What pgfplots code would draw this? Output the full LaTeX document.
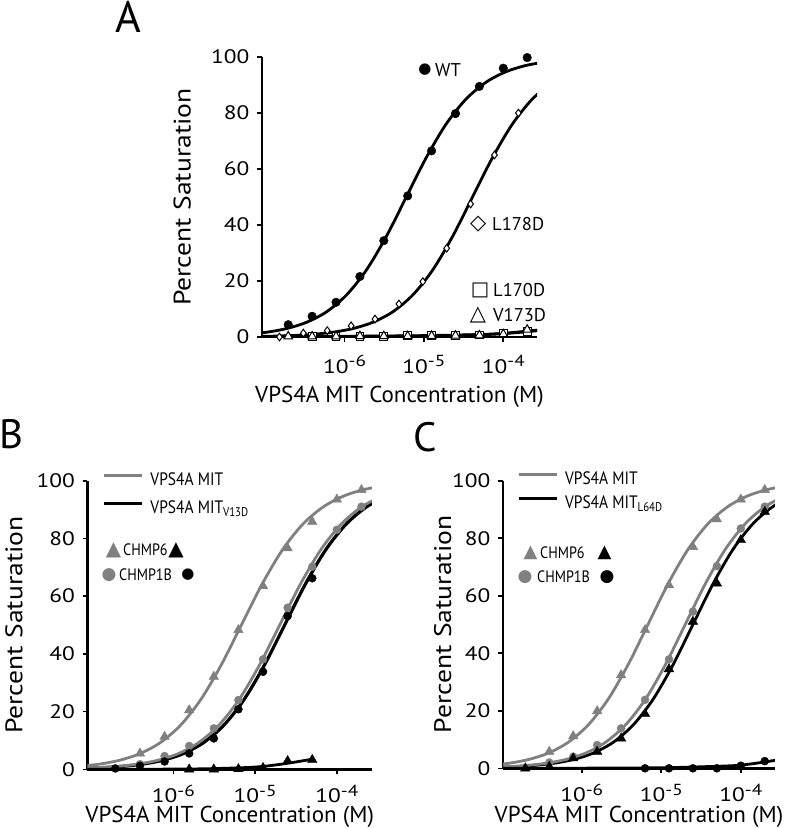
\documentclass[border=0pt]{standalone}
\usepackage{pgfplots}
\pgfplotsset{compat=1.18}
\usepackage{fontspec}
\setmainfont{PT Sans}
\newfontfamily\sym{DejaVu Sans}
\newfontfamily\cond[FakeStretch=0.86]{PT Sans}
\newfontfamily\tickf[FakeStretch=1.2]{PT Sans}
\newfontfamily\widef[FakeStretch=1.15]{PT Sans}
\definecolor{mg}{RGB}{128,128,128}
\newcommand{\fs}[1]{\fontsize{#1}{#1}\selectfont}
\newcommand{\tenp}[1]{10\raisebox{6.5pt}{\fs{16}-#1}}
\pgfplotsset{mylegline/.style={legend image code/.code={\draw[##1] (0pt,4pt) -- (38pt,4pt);}}}
\begin{document}
\begin{tikzpicture}
\path[use as bounding box] (0pt,0pt) rectangle (792pt,-828pt);

% ---------------- Panel A ----------------
\begin{axis}[at={(262pt,-337pt)}, anchor=south west, width=275pt, height=280pt,
  xmode=log, scale only axis, axis lines*=left,
  axis line style={line width=2.8pt},
  xmin=9.12e-8, xmax=2.66e-4, ymin=0, ymax=100,
  ytick={0,20,40,60,80,100}, yticklabels={0,20,40,60,80,100},
  xtick={1e-6,1e-5,1e-4},
  xticklabels={\tenp{6},\tenp{5},\tenp{4}},
  xminorticks=false, yminorticks=false,
  tick align=outside, major tick length=5pt,
  tick style={black, line width=1.6pt},
  xticklabel style={font=\tickf\fs{19.5}, yshift=-10pt},
  yticklabel style={font=\tickf\fs{19.5}, xshift=-4pt},
  xlabel={VPS4A MIT Concentration (M)},
  ylabel={Percent Saturation},
  xlabel style={font=\fs{23}, anchor=center, at={(axis description cs:0.5,-0.214)}},
  ylabel style={font=\widef\fs{24}, anchor=center, at={(axis description cs:-0.29,0.5)}},
  clip marker paths=false,
]
\addplot[smooth, no marks, line width=2.8pt, black] coordinates {(6e-8,0.99)(1.067e-7,1.747)(1.897e-7,3.066)(3.374e-7,5.324)(6e-7,9.091)(1.067e-6,15.10)(1.897e-6,24.03)(3.374e-6,36.00)(6e-6,50)(1.067e-5,64.00)(1.897e-5,75.97)(3.374e-5,84.90)(6e-5,90.91)(1.067e-4,94.68)(1.897e-4,96.93)(3.374e-4,98.25)};
\addplot[smooth, no marks, line width=2.8pt, black] coordinates {(7.29e-8,0.178)(1.297e-7,0.315)(2.306e-7,0.559)(4.1e-7,0.990)(7.29e-7,1.747)(1.297e-6,3.066)(2.306e-6,5.324)(4.1e-6,9.091)(7.29e-6,15.10)(1.297e-5,24.03)(2.306e-5,36.00)(4.1e-5,50)(7.29e-5,64.00)(1.297e-4,75.97)(2.306e-4,84.90)(4.1e-4,90.91)};
\addplot[smooth, no marks, line width=2.8pt, black] coordinates {(8e-8,0.1)(1e-6,0.2)(1e-5,0.4)(5e-5,0.8)(1e-4,1.2)(2e-4,1.9)(3e-4,2.4)};
\addplot[smooth, no marks, line width=2.8pt, black] coordinates {(8e-8,0.1)(1e-6,0.25)(1e-5,0.5)(5e-5,0.9)(1e-4,1.3)(2e-4,2.1)(3e-4,2.6)};
\addplot[only marks, mark=*, mark size=4.3pt, black] coordinates {(1.953e-7,4.4)(3.906e-7,7.4)(7.8125e-7,12.4)(1.5625e-6,21.6)(3.125e-6,34.4)(6.25e-6,50.4)(1.25e-5,66.5)(2.5e-5,79.8)(5e-5,89.5)(1e-4,96)(2e-4,99.8)};
\addplot[only marks, mark=diamond*, mark size=3.8pt, mark options={fill=white, draw=black, line width=1pt}] coordinates {(1.514e-7,0)(3.027e-7,1.4)(6.055e-7,2.3)(1.211e-6,4.0)(2.422e-6,6.4)(4.844e-6,11.8)(9.688e-6,19.8)(1.9375e-5,31.7)(3.875e-5,47.5)(7.75e-5,65)(1.55e-4,80.0)};
\addplot[only marks, mark=square*, mark size=3.9pt, mark options={fill=white, draw=black, line width=1pt}] coordinates {(3.906e-7,0.3)(7.8125e-7,0.3)(1.5625e-6,0.3)(3.125e-6,0.3)(6.25e-6,0.4)(1.25e-5,0.4)(2.5e-5,0.5)(5e-5,0.7)(1e-4,1.2)(2e-4,2.0)};
\addplot[only marks, mark=triangle*, mark size=5pt, mark options={fill=white, draw=black, line width=1pt}] coordinates {(1.953e-7,0.2)(3.906e-7,0.2)(7.8125e-7,0.2)(1.5625e-6,0.3)(3.125e-6,0.3)(6.25e-6,0.3)(1.25e-5,0.4)(2.5e-5,0.5)(5e-5,0.6)(1e-4,1.0)(2e-4,2.6)};
\end{axis}

% ---------------- Panel B ----------------
\begin{axis}[at={(87.5pt,-769.3pt)}, anchor=south west, width=284.5pt, height=288.6pt,
  xmode=log, scale only axis, axis lines*=left,
  axis line style={line width=2.8pt},
  xmin=8.91e-8, xmax=2.69e-4, ymin=0, ymax=100,
  ytick={0,20,40,60,80,100}, yticklabels={0,20,40,60,80,100},
  xtick={1e-6,1e-5,1e-4},
  xticklabels={\tenp{6},\tenp{5},\tenp{4}},
  xminorticks=false, yminorticks=false,
  tick align=outside, major tick length=5pt,
  tick style={black, line width=1.6pt},
  xticklabel style={font=\tickf\fs{19.5}, yshift=-7pt},
  yticklabel style={font=\tickf\fs{19.5}, xshift=-4pt},
  xlabel={VPS4A MIT Concentration (M)},
  ylabel={Percent Saturation},
  xlabel style={font=\fs{23}, anchor=center, at={(axis description cs:0.5,-0.166)}},
  ylabel style={font=\widef\fs{24}, anchor=center, at={(axis description cs:-0.258,0.5)}},
  clip marker paths=false,
  legend style={draw=none, fill=none, inner sep=0pt, font=\cond\fs{18},
    at={(axis description cs:0.052,0.955)}, anchor=west,
    row sep=10pt, column sep=5pt},
  legend cell align=left,
]
\addlegendimage{line width=3pt, mg, mylegline}
\addlegendentry{VPS4A MIT}
\addlegendimage{line width=3pt, black, mylegline}
\addlegendentry{VPS4A MIT\textsubscript{V13D}}
\addplot[smooth, no marks, black, line width=3.2pt, forget plot] coordinates {(7.273e-8,0.315)(1.293e-7,0.559)(2.3e-7,0.99)(4.090e-7,1.747)(7.273e-7,3.066)(1.293e-6,5.324)(2.3e-6,9.091)(4.090e-6,15.10)(7.273e-6,24.03)(1.293e-5,36.00)(2.3e-5,50)(4.090e-5,64.00)(7.273e-5,75.97)(1.293e-4,84.90)(2.3e-4,90.91)(4.090e-4,94.68)};
\addplot[smooth, no marks, line width=2.8pt, mg, forget plot] coordinates {(6.325e-8,0.315)(1.125e-7,0.559)(2e-7,0.99)(3.557e-7,1.747)(6.325e-7,3.066)(1.125e-6,5.324)(2e-6,9.091)(3.557e-6,15.10)(6.325e-6,24.03)(1.125e-5,36.00)(2e-5,50)(3.557e-5,64.00)(6.325e-5,75.97)(1.125e-4,84.90)(2e-4,90.91)(3.557e-4,94.68)};
\addplot[smooth, no marks, line width=2.8pt, mg, forget plot] coordinates {(6.8e-8,0.99)(1.209e-7,1.747)(2.150e-7,3.066)(3.824e-7,5.324)(6.8e-7,9.091)(1.209e-6,15.10)(2.150e-6,24.03)(3.824e-6,36.00)(6.8e-6,50)(1.209e-5,64.00)(2.150e-5,75.97)(3.824e-5,84.90)(6.8e-5,90.91)(1.209e-4,94.68)(2.150e-4,96.93)(3.824e-4,98.25)};
\addplot[smooth, no marks, line width=2.8pt, black, forget plot] coordinates {(8e-8,0)(1.5e-6,0.1)(6.25e-6,0.5)(1.25e-5,1.0)(2.5e-5,2.1)(5e-5,3.5)};
\addplot[only marks, mark=triangle*, mark size=5.5pt, mg, forget plot] coordinates {(3.906e-7,5.5)(7.8125e-7,11.3)(1.5625e-6,20.5)(3.125e-6,32.1)(6.25e-6,48.3)(1.25e-5,63.5)(2.5e-5,76.6)(5e-5,85.8)(1e-4,93.5)(2e-4,96.8)};
\addplot[only marks, mark=*, mark size=4pt, mg, forget plot] coordinates {(3.906e-7,1.8)(7.8125e-7,4.6)(1.5625e-6,8.1)(3.125e-6,14.2)(6.25e-6,24)(1.25e-5,38.1)(2.5e-5,56)(5e-5,70.2)(1e-4,83)(2e-4,91)};
\addplot[only marks, mark=*, mark size=4pt, black, forget plot] coordinates {(1.953e-7,0.3)(3.906e-7,1.2)(7.8125e-7,2.7)(1.5625e-6,5.5)(3.125e-6,10.7)(6.25e-6,20.8)(1.25e-5,33.8)(2.5e-5,53.1)(5e-5,66.2)};
\addplot[only marks, mark=triangle*, mark size=5.5pt, black, forget plot] coordinates {(1.5625e-6,0)(3.125e-6,0)(6.25e-6,0.1)(1.25e-5,0.5)(2.5e-5,2.9)(5e-5,3.3)};
\end{axis}

% ---------------- Panel C ----------------
\begin{axis}[at={(503pt,-768.3pt)}, anchor=south west, width=272pt, height=287.6pt,
  xmode=log, scale only axis, axis lines*=left,
  axis line style={line width=2.8pt},
  xmin=1.023e-7, xmax=2.69e-4, ymin=0, ymax=100,
  ytick={0,20,40,60,80,100}, yticklabels={0,20,40,60,80,100},
  xtick={1e-6,1e-5,1e-4},
  xticklabels={\tenp{6},\tenp{5},\tenp{4}},
  xminorticks=false, yminorticks=false,
  tick align=outside, major tick length=5pt,
  tick style={black, line width=1.6pt},
  xticklabel style={font=\tickf\fs{19.5}, yshift=-7pt},
  yticklabel style={font=\tickf\fs{19.5}, xshift=-4pt},
  xlabel={VPS4A MIT Concentration (M)},
  ylabel={Percent Saturation},
  xlabel style={font=\fs{23}, anchor=center, at={(axis description cs:0.5,-0.167)}},
  ylabel style={font=\widef\fs{24}, anchor=center, at={(axis description cs:-0.222,0.5)}},
  clip marker paths=false,
  legend style={draw=none, fill=none, inner sep=0pt, font=\cond\fs{18},
    at={(axis description cs:0.051,0.965)}, anchor=west,
    row sep=6pt, column sep=5pt},
  legend cell align=left,
]
\addlegendimage{line width=3pt, mg, mylegline}
\addlegendentry{VPS4A MIT}
\addlegendimage{line width=3pt, black, mylegline}
\addlegendentry{VPS4A MIT\textsubscript{L64D}}
\addplot[smooth, no marks, line width=2.8pt, black, forget plot] coordinates {(7.906e-8,0.315)(1.406e-7,0.559)(2.5e-7,0.99)(4.446e-7,1.747)(7.906e-7,3.066)(1.406e-6,5.324)(2.5e-6,9.091)(4.446e-6,15.10)(7.906e-6,24.03)(1.406e-5,36.00)(2.5e-5,50)(4.446e-5,64.00)(7.906e-5,75.97)(1.406e-4,84.90)(2.5e-4,90.91)(4.446e-4,94.68)};
\addplot[smooth, no marks, line width=2.8pt, mg, forget plot] coordinates {(6.325e-8,0.315)(1.125e-7,0.559)(2e-7,0.99)(3.557e-7,1.747)(6.325e-7,3.066)(1.125e-6,5.324)(2e-6,9.091)(3.557e-6,15.10)(6.325e-6,24.03)(1.125e-5,36.00)(2e-5,50)(3.557e-5,64.00)(6.325e-5,75.97)(1.125e-4,84.90)(2e-4,90.91)(3.557e-4,94.68)};
\addplot[smooth, no marks, line width=2.8pt, mg, forget plot] coordinates {(6.8e-8,0.99)(1.209e-7,1.747)(2.150e-7,3.066)(3.824e-7,5.324)(6.8e-7,9.091)(1.209e-6,15.10)(2.150e-6,24.03)(3.824e-6,36.00)(6.8e-6,50)(1.209e-5,64.00)(2.150e-5,75.97)(3.824e-5,84.90)(6.8e-5,90.91)(1.209e-4,94.68)(2.150e-4,96.93)(3.824e-4,98.25)};
\addplot[smooth, no marks, line width=2.8pt, black, forget plot] coordinates {(8e-8,0)(1e-6,0.05)(1e-5,0.2)(5e-5,0.7)(1e-4,1.1)(2e-4,2.2)(3e-4,3.0)};
\addplot[only marks, mark=triangle*, mark size=5.5pt, mg, forget plot] coordinates {(3.906e-7,5.8)(7.8125e-7,11.2)(1.5625e-6,19.9)(3.125e-6,32.4)(6.25e-6,48.1)(1.25e-5,63.7)(2.5e-5,77)(5e-5,86.6)(1e-4,93.5)(2e-4,96.8)};
\addplot[only marks, mark=*, mark size=4pt, mg, forget plot] coordinates {(3.906e-7,2.0)(7.8125e-7,4.0)(1.5625e-6,8.1)(3.125e-6,13.9)(6.25e-6,23.8)(1.25e-5,37.9)(2.5e-5,54.5)(5e-5,70.3)(1e-4,83.4)(2e-4,91)};
\addplot[only marks, mark=triangle*, mark size=5.5pt, black, forget plot] coordinates {(1.953e-7,0)(3.906e-7,0.6)(7.8125e-7,3.5)(1.5625e-6,5.8)(3.125e-6,10.4)(6.25e-6,18.9)(1.25e-5,34.5)(2.5e-5,51)(5e-5,64.3)(1e-4,79.4)(2e-4,89.2)};
\addplot[only marks, mark=*, mark size=4pt, black, forget plot] coordinates {(6.25e-6,0)(1.25e-5,0)(2.5e-5,0)(5e-5,0)(1e-4,0.9)(2e-4,2.5)};
\end{axis}

% ---------------- annotations ----------------
\node[inner sep=0pt] at (128.5pt,-17pt) {\fs{44}A};
\node[inner sep=0pt] at (11pt,-434pt) {\fs{41}B};
\node[inner sep=0pt] at (425.5pt,-437pt) {\fs{41}C};

\node[inner sep=0pt] at (425pt,-70pt) {\sym\fs{15}●};
\node[inner sep=0pt, anchor=west] at (435pt,-70pt) {\fs{18.5}WT};
\node[inner sep=0pt] at (478.3pt,-224.3pt) {\sym\fs{21}◇};
\node[inner sep=0pt, anchor=west] at (492pt,-224.3pt) {\fs{18.5}L178D};
\node[inner sep=0pt] at (480pt,-290pt) {\sym\fs{19.5}□};
\node[inner sep=0pt, anchor=west] at (493pt,-290pt) {\fs{18.5}L170D};
\node[inner sep=0pt] at (478pt,-315pt) {\sym\fs{21}△};
\node[inner sep=0pt, anchor=west] at (493pt,-315pt) {\fs{18.5}V173D};

\node[inner sep=0pt, text=mg] at (113.5pt,-550pt) {\sym\fs{20}▲};
\node[inner sep=0pt, anchor=west] at (123pt,-550pt) {\cond\fs{16.5}CHMP6};
\node[inner sep=0pt] at (176pt,-550pt) {\sym\fs{20}▲};
\node[inner sep=0pt, text=mg] at (109pt,-575pt) {\sym\fs{17}●};
\node[inner sep=0pt, anchor=west] at (119pt,-575pt) {\cond\fs{16.5}CHMP1B};
\node[inner sep=0pt] at (188pt,-575pt) {\sym\fs{15}●};

\node[inner sep=0pt, text=mg] at (530.5pt,-553pt) {\sym\fs{18}▲};
\node[inner sep=0pt, anchor=west] at (540pt,-553pt) {\cond\fs{16.5}CHMP6};
\node[inner sep=0pt] at (604.5pt,-553pt) {\sym\fs{18}▲};
\node[inner sep=0pt, text=mg] at (525pt,-577pt) {\sym\fs{17}●};
\node[inner sep=0pt, anchor=west] at (537pt,-577pt) {\cond\fs{16.5}CHMP1B};
\node[inner sep=0pt] at (607pt,-577pt) {\sym\fs{17}●};
\end{tikzpicture}
\end{document}
